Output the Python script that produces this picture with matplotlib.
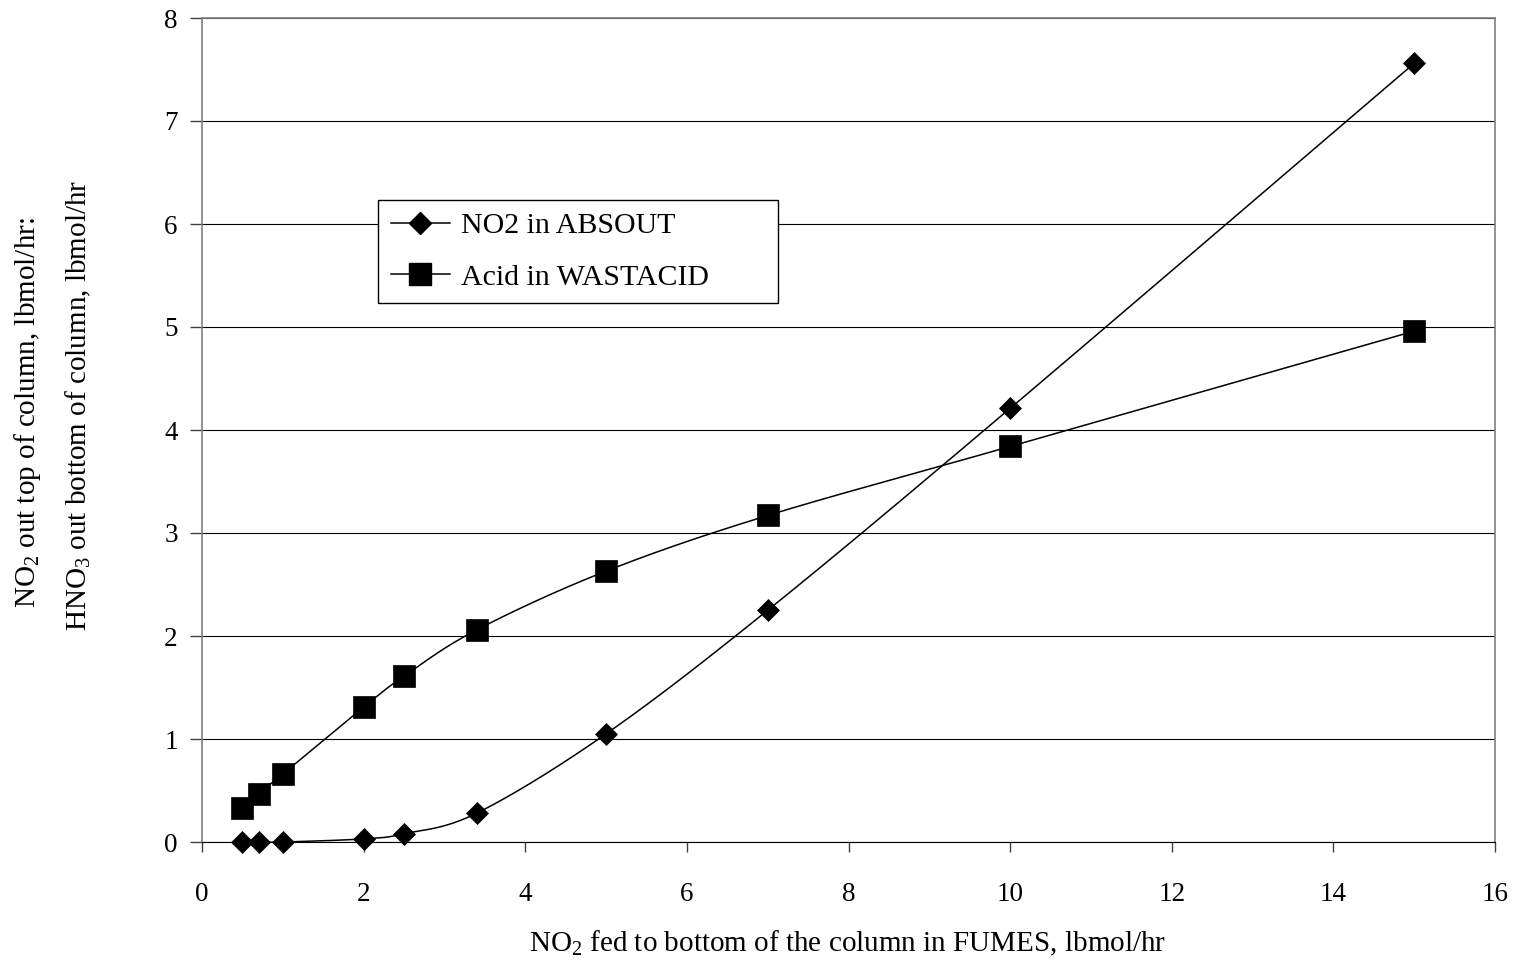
import numpy as np
import matplotlib
matplotlib.use("Agg")
import matplotlib.pyplot as plt
from matplotlib.transforms import Bbox, TransformedBbox

# NO2 fed to the bottom of the column in FUMES, lbmol/hr
no2_fed = [0.5, 0.7, 1.0, 2.0, 2.5, 3.4, 5.0, 7.0, 10.0, 15.0]
# NO2 leaving the top of the column (ABSOUT), lbmol/hr
no2_absout = [0.0, 0.0, 0.0, 0.03, 0.08, 0.28, 1.05, 2.25, 4.21, 7.56]
# HNO3 leaving the bottom of the column (WASTACID), lbmol/hr
acid_wastacid = [0.33, 0.47, 0.66, 1.31, 1.61, 2.06, 2.63, 3.17, 3.84, 4.96]

series_labels = ["NO2 in ABSOUT", "Acid in WASTACID"]
x_ticks = [0, 2, 4, 6, 8, 10, 12, 14, 16]
y_ticks = [0, 1, 2, 3, 4, 5, 6, 7, 8]

plt.rcParams["font.family"] = ["Liberation Serif", "DejaVu Serif"]
plt.rcParams["mathtext.fontset"] = "custom"
plt.rcParams["mathtext.rm"] = "Liberation Serif"
plt.rcParams["mathtext.it"] = "Liberation Serif:italic"
plt.rcParams["mathtext.bf"] = "Liberation Serif:bold"


def smooth_curve(x, y, n=40):
    """Piecewise cubic Bezier through the points (spreadsheet-style smoothing)."""
    p = np.column_stack([x, y]).astype(float)
    ext = np.vstack([p[0], p, p[-1]])
    t = np.linspace(0.0, 1.0, n)[:, None]
    pieces = []
    for i in range(len(p) - 1):
        p0, p1 = ext[i + 1], ext[i + 2]
        c1 = p0 + (ext[i + 2] - ext[i]) / 6.0
        c2 = p1 - (ext[i + 3] - ext[i + 1]) / 6.0
        seg = ((1 - t) ** 3) * p0 + 3 * ((1 - t) ** 2) * t * c1 \
            + 3 * (1 - t) * (t ** 2) * c2 + (t ** 3) * p1
        pieces.append(seg if i == 0 else seg[1:])
    pts = np.vstack(pieces)
    return pts[:, 0], pts[:, 1]


fig = plt.figure(figsize=(15.19, 9.63), dpi=100)
ax = fig.add_axes([202 / 1519, 1 - 842 / 963, (1495 - 202) / 1519, (842 - 18) / 963])

ax.set_xlim(0, 16)
ax.set_ylim(0, 8)
ax.set_xticks(x_ticks)
ax.set_yticks(y_ticks)
ax.yaxis.grid(True, color="black", linewidth=0.8)
ax.set_axisbelow(True)

for name in ("left", "top", "right"):
    ax.spines[name].set_color("#7f7f7f")
    ax.spines[name].set_linewidth(1.2)
ax.spines["bottom"].set_color("black")
ax.spines["bottom"].set_linewidth(0.8)

ax.tick_params(axis="x", direction="out", length=7.5, width=1.0, color="#404040",
               pad=21, labelsize=19.5)
ax.tick_params(axis="y", direction="out", length=8.5, width=1.0, color="#404040",
               pad=9, labelsize=19.5)

# smoothed connecting lines
sx, sy = smooth_curve(no2_fed, no2_absout)
ax.plot(sx, sy, color="black", linewidth=1.1, zorder=3)
sx2, sy2 = smooth_curve(no2_fed, acid_wastacid)
ax.plot(sx2, sy2, color="black", linewidth=1.1, zorder=3)

# markers
ax.plot(no2_fed, no2_absout, linestyle="none", marker="D", markersize=11.2,
        color="black", markeredgewidth=0.5, zorder=4, clip_on=False)
ax.plot(no2_fed, acid_wastacid, linestyle="none", marker="s", markersize=16,
        color="black", markeredgewidth=0.5, zorder=4, clip_on=False)

# legend proxies: line with marker
h1, = ax.plot([], [], color="black", linewidth=1.1, marker="D", markersize=11.2)
h2, = ax.plot([], [], color="black", linewidth=1.1, marker="s", markersize=16)
leg = ax.legend([h1, h2], series_labels, loc="upper left",
                bbox_to_anchor=((378 - 202) / 1293, (842 - 305) / 824,
                                400 / 1293, 105 / 824),
                mode="expand", borderaxespad=0, frameon=True, fancybox=False,
                framealpha=1, edgecolor="black", fontsize=21.5,
                handlelength=2.0, handletextpad=0.35, labelspacing=0.82,
                borderpad=0.42, numpoints=1)
leg.get_frame().set_linewidth(1.0)

# axis titles
fig.text(848 / 1519, 1 - 951 / 963, r"NO$_2$ fed to bottom of the column in FUMES, lbmol/hr",
         ha="center", va="baseline", fontsize=21)

fig.text(28 / 1519, 1 - 413 / 963, r"NO$_2$ out top of column, lbmol/hr:",
         rotation=90, ha="center", va="center", fontsize=21)
t2 = fig.text(78 / 1519, 1 - 405 / 963, r"HNO$_3$ out bottom of column, lbmol/hr",
              rotation=90, ha="center", va="center", fontsize=21)
t2.set_clip_on(True)
t2.set_clip_box(TransformedBbox(Bbox([[0, 0], [1, 1 - 163 / 963]]), fig.transFigure))

fig.savefig("out.png", dpi=100)
